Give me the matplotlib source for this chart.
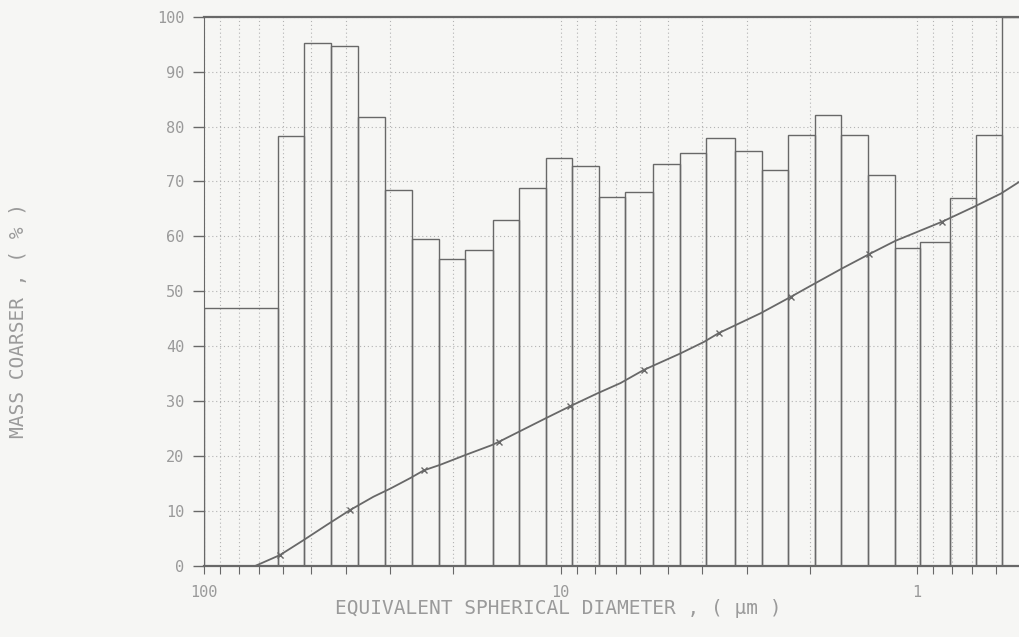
import matplotlib.pyplot as plt
from matplotlib.ticker import FixedFormatter, FixedLocator, LogLocator, NullFormatter

# histogram bin edges (equivalent spherical diameter, um), largest first
bin_edges = [100, 62.1, 52.4, 44.0, 36.9, 31.0, 26.1, 21.9, 18.5, 15.5,
             13.1, 11.0, 9.28, 7.82, 6.58, 5.50, 4.63, 3.90, 3.24, 2.73,
             2.30, 1.93, 1.63, 1.37, 1.15, 0.98, 0.81, 0.685, 0.576, 0.48]
# bar heights (mass coarser, %)
bar_pct = [47.0, 78.2, 95.3, 94.6, 81.8, 68.5, 59.5, 55.9, 57.6, 62.9,
           68.8, 74.2, 72.9, 67.2, 68.1, 73.2, 75.2, 77.9, 75.5, 72.1,
           78.5, 82.1, 78.5, 71.2, 57.9, 59.0, 67.0, 78.5, 100.0]

# cumulative curve
curve_d = [71.9, 61.2, 52.6, 45.2, 38.9, 33.5, 30.0, 26.4, 24.2, 21.8,
           18.5, 15.6, 14.9, 11.0, 9.39, 7.90, 6.79, 5.84, 4.61, 3.96,
           3.60, 2.75, 2.26, 1.99, 1.62, 1.36, 1.15, 0.849, 0.692, 0.582, 0.515]
curve_pct = [0.0, 2.0, 4.7, 7.5, 10.2, 12.6, 14.1, 16.0, 17.4, 18.4,
             20.2, 22.0, 22.6, 26.9, 29.1, 31.4, 33.3, 35.7, 38.7, 40.8,
             42.4, 46.0, 49.0, 51.0, 54.2, 56.8, 59.2, 62.7, 65.4, 67.8, 70.0]

# plotted data points on the curve
marker_d = [61.2, 38.9, 24.2, 14.9, 9.39, 5.84, 3.60, 2.26, 1.36, 0.849]
marker_pct = [2.0, 10.2, 17.4, 22.6, 29.1, 35.7, 42.4, 49.0, 56.8, 62.7]

x_major = [100, 10, 1]
x_major_labels = ["100", "10", "1"]
y_ticks = list(range(0, 101, 10))

ink = "#686868"
text_ink = "#9a9a9a"
grid_ink = "#b2b2b2"
paper = "#f6f6f4"
mono = "DejaVu Sans Mono"

fig = plt.figure(figsize=(10.19, 6.37), dpi=100, facecolor=paper)
W, H = 1019, 637
ax = fig.add_axes([204 / W, 71 / H, (1024.4 - 204) / W, (566 - 16.7) / H])
ax.set_facecolor("none")

ax.set_xscale("log")
ax.set_xlim(100, 0.5)
ax.set_ylim(0, 100)

lefts = bin_edges[:-1]
rights = bin_edges[1:]
widths = [l - r for l, r in zip(lefts, rights)]
ax.bar(rights, bar_pct, width=widths, align="edge", fill=False,
       edgecolor=ink, linewidth=1.0, zorder=3)

ax.plot(curve_d, curve_pct, color=ink, lw=1.3, zorder=4)
ax.plot(marker_d, marker_pct, "x", color=ink, ms=5, mew=1.0, zorder=5)

ax.xaxis.set_major_locator(FixedLocator(x_major))
ax.xaxis.set_major_formatter(FixedFormatter(x_major_labels))
ax.xaxis.set_minor_locator(LogLocator(base=10, subs=range(2, 10)))
ax.xaxis.set_minor_formatter(NullFormatter())
ax.set_yticks(y_ticks)
ax.set_yticklabels([str(v) for v in y_ticks])

ax.grid(which="both", axis="x", linestyle=(0, (1, 2.5)), color=grid_ink, lw=0.8)
ax.grid(which="major", axis="y", linestyle=(0, (1, 2.5)), color=grid_ink, lw=0.8)
ax.set_axisbelow(True)

ax.tick_params(axis="y", direction="out", length=8, width=1.0, color=ink,
               labelsize=11, labelcolor=text_ink, pad=6)
ax.tick_params(axis="x", which="both", direction="out", length=6, width=0.8,
               color=ink, labelsize=11, labelcolor=text_ink, pad=8)
for lab in ax.get_xticklabels() + ax.get_yticklabels():
    lab.set_family(mono)

ax.spines["right"].set_visible(False)
ax.spines["top"].set_linewidth(1.6)
ax.spines["top"].set_color(ink)
ax.spines["bottom"].set_linewidth(1.6)
ax.spines["bottom"].set_color(ink)
ax.spines["left"].set_linewidth(0.8)
ax.spines["left"].set_color(ink)

fig.text(558 / W, 1 - 608 / H, "EQUIVALENT SPHERICAL DIAMETER , ( µm )",
         ha="center", va="center", fontsize=14, color=text_ink, family=mono)
fig.text(19 / W, 1 - 321 / H, "MASS COARSER , ( % )", rotation=90,
         ha="center", va="center", fontsize=14, color=text_ink, family=mono)

fig.savefig("out.png", dpi=100, facecolor=fig.get_facecolor())
